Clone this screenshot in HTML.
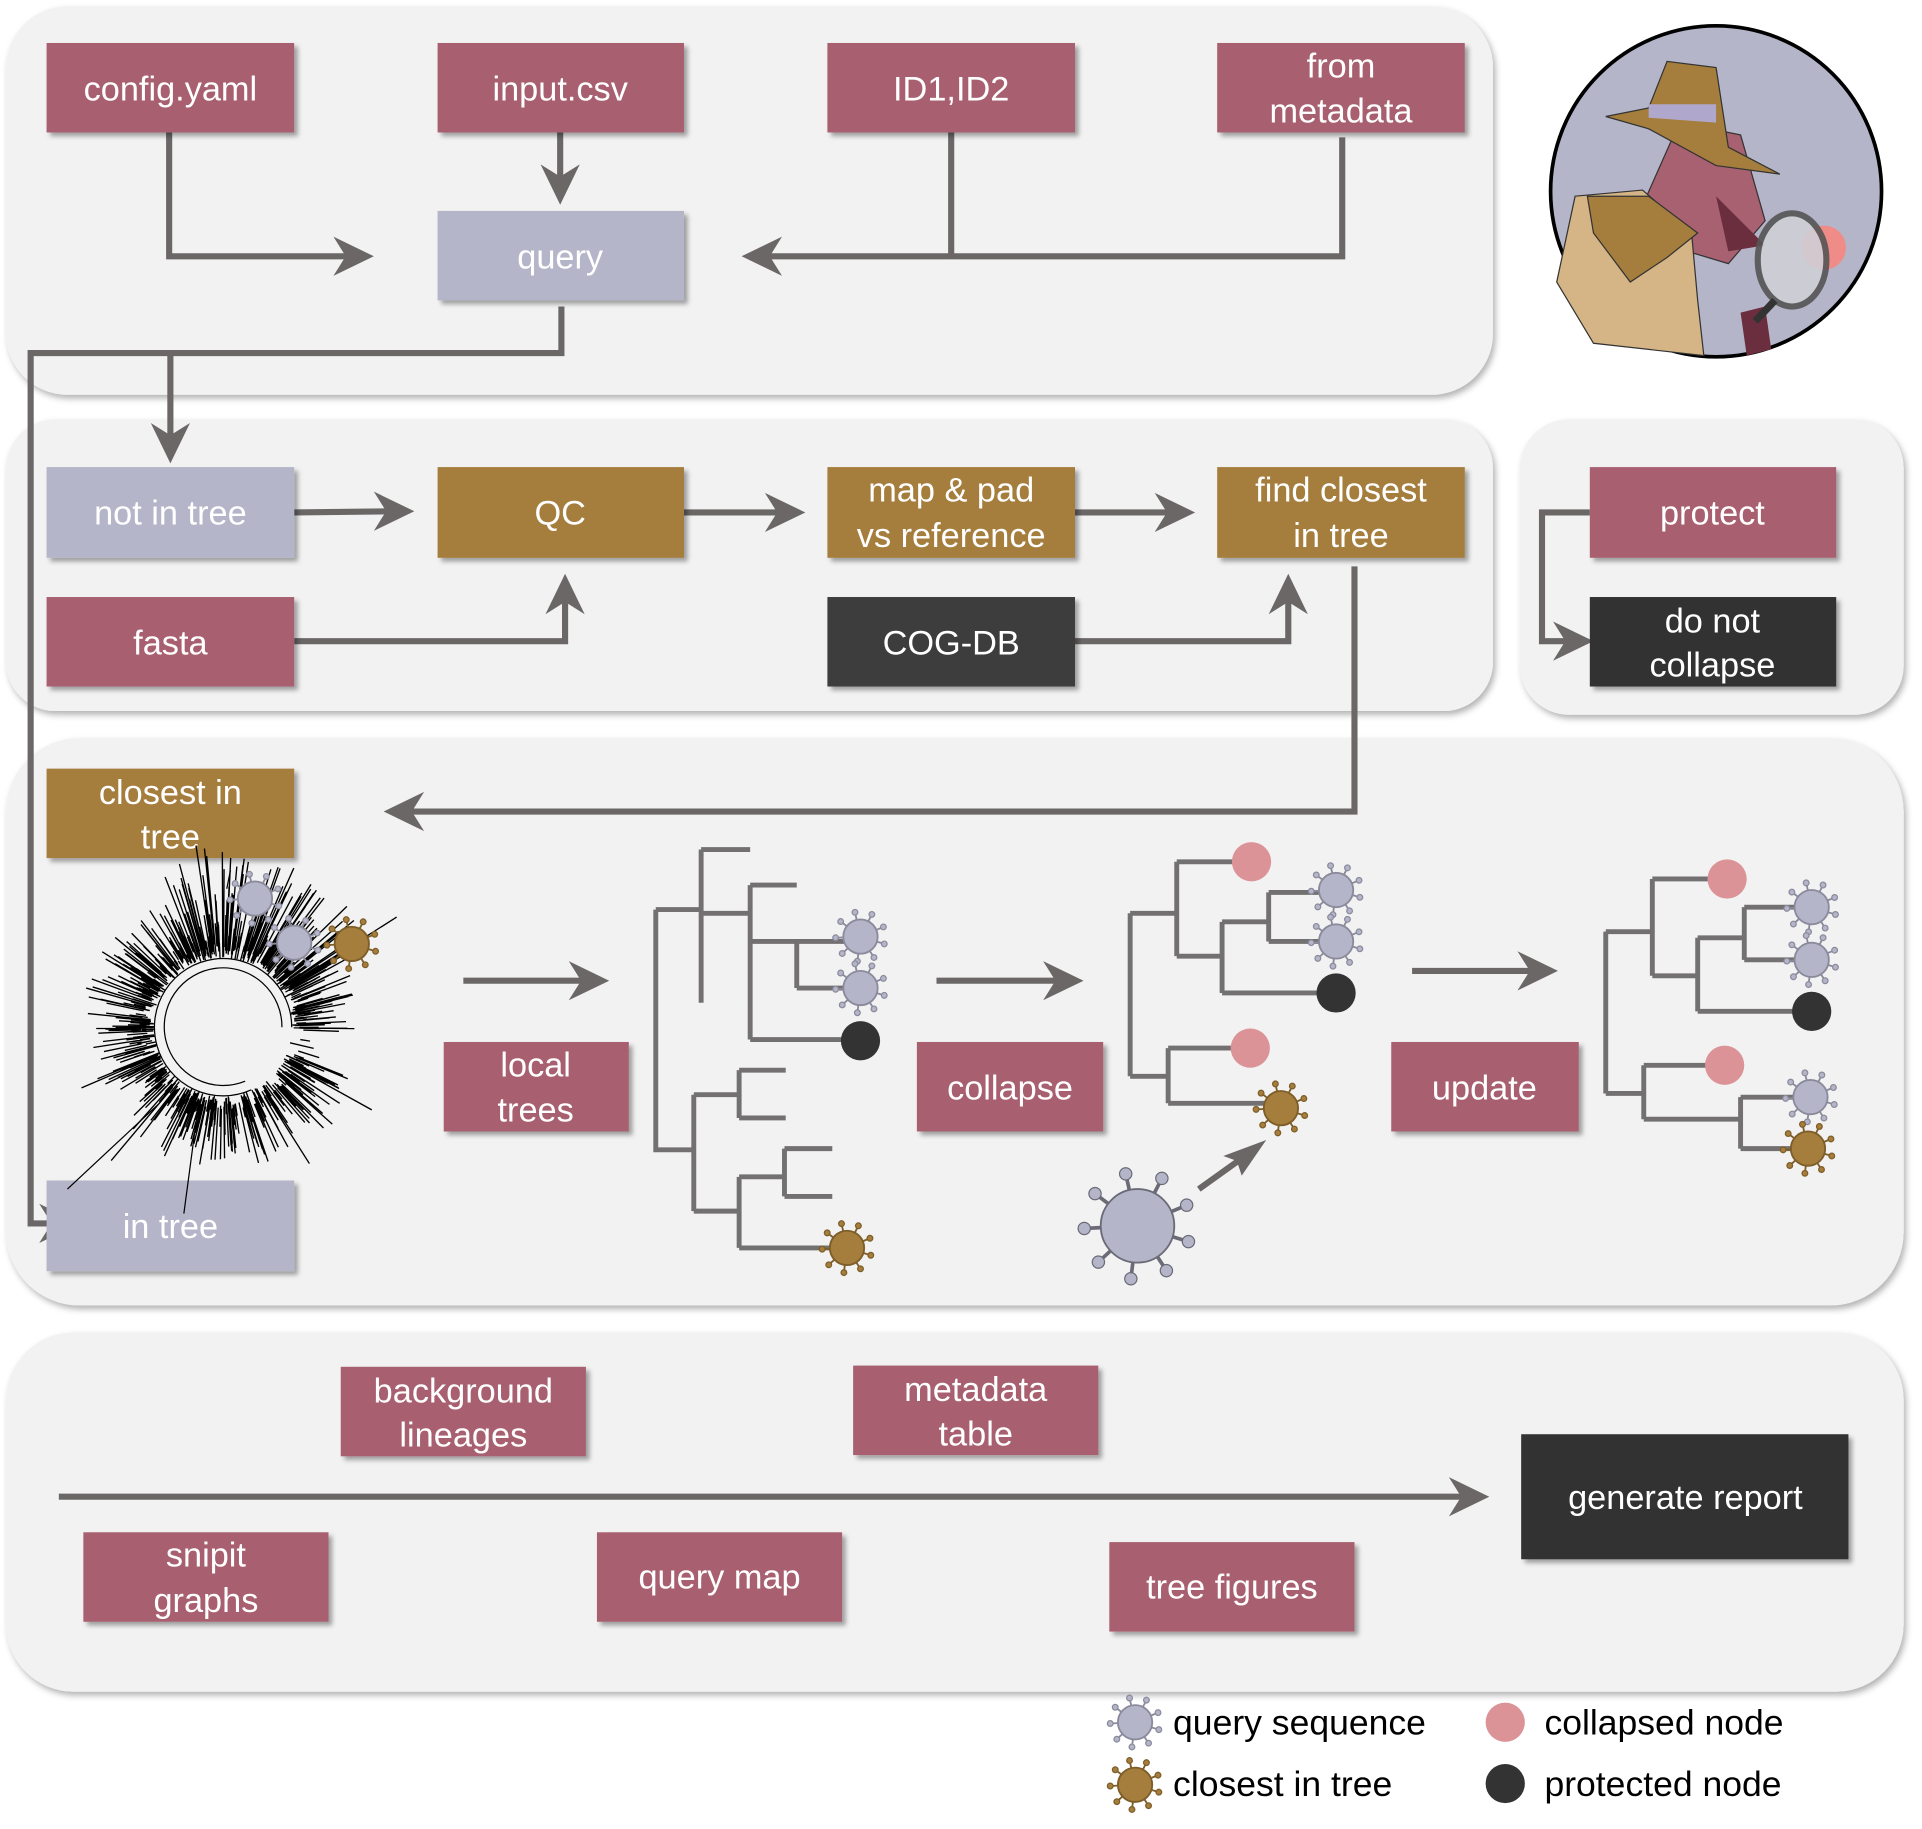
<!DOCTYPE html>
<html><head><meta charset="utf-8"><style>
html,body{margin:0;padding:0;background:#fff}
svg{display:block}
text{font-family:"Liberation Sans",sans-serif}
.bt{fill:#fff;font-size:28px;text-anchor:middle}
.lg{fill:#000;font-size:29px}
.ln{fill:none;stroke:#6b6767;stroke-width:5}
.tr{fill:none;stroke:#727070;stroke-width:4}
</style></head><body>
<svg id="s" width="1922" height="1829" viewBox="0 0 1568 1492" xmlns="http://www.w3.org/2000/svg">
<defs>
<filter id="sh" x="-10%" y="-10%" width="130%" height="140%"><feDropShadow dx="3" dy="3" stdDeviation="2" flood-color="#000" flood-opacity="0.35"/></filter>
<filter id="psh" x="-5%" y="-5%" width="110%" height="115%"><feDropShadow dx="2" dy="3" stdDeviation="2.5" flood-color="#000" flood-opacity="0.3"/></filter>
</defs>
<g fill="#f2f2f2" filter="url(#psh)">
<rect x="5" y="5" width="1213" height="317" rx="50"/>
<rect x="5" y="342" width="1213" height="238" rx="40"/>
<rect x="1240" y="342" width="313" height="241" rx="40"/>
<rect x="5" y="602" width="1548" height="463" rx="60"/>
<rect x="5" y="1087" width="1548" height="293" rx="55"/>
</g>
<g class="ln">
<polyline points="138,108 138,209 290,209"/>
<polyline points="1095,112 1095,209 620,209"/>
<line x1="776" y1="108" x2="776" y2="209"/>
<line x1="457" y1="108" x2="457" y2="155"/>
<polyline points="458,250 458,288 25,288 25,998 52,998"/>
<line x1="139" y1="288" x2="139" y2="365"/>
<line x1="240" y1="418" x2="325" y2="417"/>
<line x1="558" y1="418" x2="643" y2="418"/>
<line x1="877" y1="418" x2="962" y2="418"/>
<polyline points="240,523 461,523 461,482"/>
<polyline points="877,523 1051,523 1051,482"/>
<polyline points="1105,462 1105,662 328,662"/>
<polyline points="1297,418 1258,418 1258,523 1288,523"/>
<line x1="378" y1="800" x2="484" y2="800"/>
<line x1="764" y1="800" x2="870" y2="800"/>
<line x1="1152" y1="792" x2="1258" y2="792"/>
<line x1="978" y1="970" x2="1020" y2="940"/>
<line x1="48" y1="1221" x2="1200" y2="1221"/>
</g>
<g fill="#6b6767">
<path d="M305,209 L272,193 L282,209 L272,225z"/>
<path d="M605,209 L638,193 L628,209 L638,225z"/>
<path d="M457,167 L441,134 L457,144 L473,134z"/>
<path d="M139,378 L123,345 L139,355 L155,345z"/>
<path d="M338,417 L305,401 L315,417 L305,433z"/>
<path d="M657,418 L624,402 L634,418 L624,434z"/>
<path d="M975,418 L942,402 L952,418 L942,434z"/>
<path d="M461,468 L445,501 L461,491 L477,501z"/>
<path d="M1051,468 L1035,501 L1051,491 L1067,501z"/>
<path d="M313,662 L346,646 L336,662 L346,678z"/>
<path d="M1300,523 L1267,507 L1277,523 L1267,539z"/>
<path d="M65,998 L32,982 L42,998 L32,1014z"/>
<path d="M497,800 L464,784 L474,800 L464,816z"/>
<path d="M884,800 L851,784 L861,800 L851,816z"/>
<path d="M1271,792 L1238,776 L1248,792 L1238,808z"/>
<path d="M1033,930 L998,943 L1009,947 L1013,959z"/>
<path d="M1215,1221 L1182,1205 L1192,1221 L1182,1237z"/>
</g>
<g filter="url(#sh)">
<rect x="38" y="35" width="202" height="73" fill="#a86170"/>
<rect x="357" y="35" width="201" height="73" fill="#a86170"/>
<rect x="675" y="35" width="202" height="73" fill="#a86170"/>
<rect x="993" y="35" width="202" height="73" fill="#a86170"/>
<rect x="357" y="172" width="201" height="73" fill="#b4b5c8"/>
<rect x="38" y="381" width="202" height="74" fill="#b4b5c8"/>
<rect x="357" y="381" width="201" height="74" fill="#a57d3c"/>
<rect x="675" y="381" width="202" height="74" fill="#a57d3c"/>
<rect x="993" y="381" width="202" height="74" fill="#a57d3c"/>
<rect x="38" y="487" width="202" height="73" fill="#a86170"/>
<rect x="675" y="487" width="202" height="73" fill="#3e3e3e"/>
<rect x="1297" y="381" width="201" height="74" fill="#a86170"/>
<rect x="1297" y="487" width="201" height="73" fill="#333333"/>
<rect x="38" y="627" width="202" height="73" fill="#a57d3c"/>
<rect x="38" y="963" width="202" height="74" fill="#b4b5c8"/>
<rect x="362" y="850" width="151" height="73" fill="#a86170"/>
<rect x="748" y="850" width="152" height="73" fill="#a86170"/>
<rect x="1135" y="850" width="153" height="73" fill="#a86170"/>
<rect x="278" y="1115" width="200" height="73" fill="#a86170"/>
<rect x="696" y="1114" width="200" height="73" fill="#a86170"/>
<rect x="68" y="1250" width="200" height="73" fill="#a86170"/>
<rect x="487" y="1250" width="200" height="73" fill="#a86170"/>
<rect x="905" y="1258" width="200" height="73" fill="#a86170"/>
<rect x="1241" y="1170" width="267" height="102" fill="#333333"/>
</g>
<g class="bt">
<text x="139" y="82">config.yaml</text>
<text x="457" y="82">input.csv</text>
<text x="776" y="82">ID1,ID2</text>
<text x="1094" y="63">from</text><text x="1094" y="100">metadata</text>
<text x="457" y="219">query</text>
<text x="139" y="428">not in tree</text>
<text x="457" y="428">QC</text>
<text x="776" y="409">map &amp; pad</text><text x="776" y="446">vs reference</text>
<text x="1094" y="409">find closest</text><text x="1094" y="446">in tree</text>
<text x="139" y="534">fasta</text>
<text x="776" y="534">COG-DB</text>
<text x="1397" y="428">protect</text>
<text x="1397" y="516">do not</text><text x="1397" y="552">collapse</text>
<text x="139" y="656">closest in</text><text x="139" y="692">tree</text>
<text x="139" y="1010">in tree</text>
<text x="437" y="878">local</text><text x="437" y="915">trees</text>
<text x="824" y="897">collapse</text>
<text x="1211" y="897">update</text>
<text x="378" y="1144">background</text><text x="378" y="1180">lineages</text>
<text x="796" y="1143">metadata</text><text x="796" y="1179">table</text>
<text x="168" y="1278">snipit</text><text x="168" y="1315">graphs</text>
<text x="587" y="1296">query map</text>
<text x="1005" y="1304">tree figures</text>
<text x="1375" y="1231">generate report</text>
</g>
<g class="tr">
<path d="M535,742 H572 M572,693 V818 M572,693 H612 M572,745 H612 M612,722 V848 M612,722 H650 M612,768 H650 M650,768 V806 M650,768 H700 M650,806 H700 M612,848 H700 M535,742 V938 H566 M566,893 V988 M566,893 H603 M603,873 V912 M603,873 H641 M603,912 H641 M566,988 H603 M603,960 V1018 M603,960 H640 M640,937 V976 M640,937 H679 M640,976 H679 M603,1018 H690"/>
<path d="M922,745 V878 M922,745 H960 M960,703 V780 M960,703 H1020 M960,780 H997 M997,752 V810 M997,752 H1035 M1035,728 V768 M1035,728 H1090 M1035,768 H1090 M997,810 H1090 M922,878 H953 M953,855 V900 M953,855 H1020 M953,900 H1045"/>
<path d="M1310,760 V892 M1310,760 H1348 M1348,717 V796 M1348,717 H1409 M1348,796 H1385 M1385,765 V825 M1385,765 H1423 M1423,740 V783 M1423,740 H1478 M1423,783 H1478 M1385,825 H1478 M1310,892 H1341 M1341,869 V913 M1341,869 H1407 M1341,913 H1420 M1420,895 V937 M1420,895 H1477 M1420,937 H1475"/>
</g>
<circle cx="702" cy="849" r="16" fill="#333"/>
<circle cx="1090" cy="810" r="16" fill="#333"/>
<circle cx="1478" cy="825" r="16" fill="#333"/>
<circle cx="1021" cy="703" r="16" fill="#dc9398"/>
<circle cx="1020" cy="855" r="16" fill="#dc9398"/>
<circle cx="1409" cy="717" r="16" fill="#dc9398"/>
<circle cx="1407" cy="869" r="16" fill="#dc9398"/>
<g id="radial"></g>
<g id="viruses"></g>
<circle cx="1400" cy="156" r="135" fill="#b4b5c8" stroke="#000" stroke-width="3"/>
<path d="M1330,190 L1370,100 L1420,110 L1440,180 L1410,215 L1360,200z" fill="#a86170" stroke="#333"/>
<path d="M1310,95 L1345,88 L1360,50 L1400,55 L1410,120 L1452,142 L1400,135 L1345,105z" fill="#a57d3c" stroke="#333"/>
<path d="M1345,85 L1400,85 L1400,100 L1345,96z" fill="#b0a8cc"/>
<path d="M1400,160 L1440,200 L1410,205z" fill="#6b2e3f"/>
<path d="M1285,160 L1340,155 L1380,190 L1385,245 L1390,290 L1300,280 L1270,230z" fill="#d5b486" stroke="#333"/>
<path d="M1295,160 L1345,160 L1385,190 L1360,210 L1330,230 L1300,190z" fill="#a57d3c" stroke="#333"/>
<path d="M1420,255 L1440,250 L1445,285 L1425,290z" fill="#6b2e3f"/>
<circle cx="1488" cy="202" r="18" fill="#f08c88"/>
<ellipse cx="1462" cy="212" rx="28" ry="38" fill="#cfcfd6" stroke="#555" stroke-width="5" opacity="0.9"/>
<line x1="1448" y1="245" x2="1432" y2="262" stroke="#333" stroke-width="6"/>
<text class="lg" x="957" y="1415">query sequence</text>
<text class="lg" x="957" y="1465">closest in tree</text>
<circle cx="1228" cy="1405" r="16" fill="#dc9398"/>
<circle cx="1228" cy="1455" r="16" fill="#333"/>
<text class="lg" x="1260" y="1415">collapsed node</text>
<text class="lg" x="1260" y="1465">protected node</text>
</svg>
<script>
(function(){
var NS="http://www.w3.org/2000/svg";
function el(p,t,a){var e=document.createElementNS(NS,t);for(var k in a)e.setAttribute(k,a[k]);p.appendChild(e);return e;}
var seed=7;function rnd(){seed=(seed*16807)%2147483647;return seed/2147483647;}
var r=document.getElementById('radial');
var cx=182,cy=838;
el(r,'path',{d:"M230,838 A48,48 0 1 0 200,882",fill:'none',stroke:'#000','stroke-width':1});
el(r,'path',{d:"M238,838 A56,56 0 1 0 205,889",fill:'none',stroke:'#000','stroke-width':1});
var d="";
for(var i=0;i<700;i++){var a=rnd()*Math.PI*2;if(a>0.02&&a<0.35&&rnd()<0.85)continue;var r0=56+rnd()*12;
var L=8+Math.pow(rnd(),2.2)*45;if(a>4.3&&a<5.8)L*=1.5;if(rnd()<0.03)L+=30;
d+="M"+(cx+r0*Math.cos(a)).toFixed(1)+","+(cy+r0*Math.sin(a)).toFixed(1)+"L"+(cx+(r0+L)*Math.cos(a)).toFixed(1)+","+(cy+(r0+L)*Math.sin(a)).toFixed(1);}
el(r,'path',{d:d,stroke:'#000','stroke-width':1.1,fill:'none'});
el(r,'path',{d:"M130,900 L55,970 M160,915 L150,990 M185,725 L188,710",stroke:'#000','stroke-width':1});
var v=document.getElementById('viruses');
function virus(x,y,R,col,stk){var g=el(v,'g',{});var n=9;for(var i=0;i<n;i++){var a=i/n*Math.PI*2+0.3;var x1=x+R*Math.cos(a),y1=y+R*Math.sin(a),x2=x+R*1.45*Math.cos(a),y2=y+R*1.45*Math.sin(a);
el(g,'line',{x1:x1,y1:y1,x2:x2,y2:y2,stroke:stk,'stroke-width':Math.max(1.5,R/10)});el(g,'circle',{cx:x2,cy:y2,r:Math.max(2.2,R/6),fill:col,stroke:stk,'stroke-width':1});}
el(g,'circle',{cx:x,cy:y,r:R,fill:col,stroke:stk,'stroke-width':1.5});}
var L='#b4b5c8',Ls='#8a8a9c',G='#a57d3c',Gs='#7d5d28';
virus(208,733,14,L,Ls);virus(240,769,14,L,Ls);virus(287,770,14,G,Gs);
virus(702,764,14,L,Ls);virus(702,806,14,L,Ls);virus(691,1018,14,G,Gs);
virus(1090,726,14,L,Ls);virus(1090,768,14,L,Ls);virus(1045,904,14,G,Gs);
virus(1478,740,14,L,Ls);virus(1478,783,14,L,Ls);virus(1477,895,14,L,Ls);virus(1475,937,14,G,Gs);
virus(928,1000,30,L,'#6b6b78');
virus(926,1405,14,L,Ls);virus(926,1456,14,G,Gs);
})();
</script>
</body></html>
